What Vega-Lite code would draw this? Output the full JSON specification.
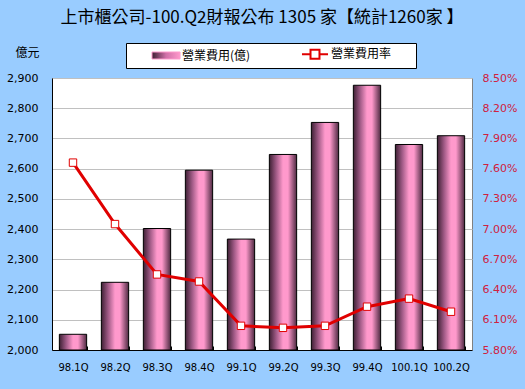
{
  "$schema": "https://vega.github.io/schema/vega-lite/v6.json",
  "width": 420,
  "height": 272,
  "autosize": "none",
  "padding": {"left": 52, "top": 78, "right": 53, "bottom": 39},
  "background": "#99ccff",
  "title": {
    "text": "上市櫃公司-100.Q2財報公布 1305 家【統計1260家 】",
    "font": "Noto Sans CJK TC",
    "fontSize": 17,
    "fontWeight": "normal",
    "color": "#000000",
    "anchor": "middle",
    "offset": 16
  },
  "config": {
    "view": {"fill": "white", "stroke": "#808080", "strokeWidth": 1},
    "axis": {"labelFont": "DejaVu Sans", "labelColor": "#000000", "domainColor": "#000000", "gridColor": "#c0c0c0", "labelOverlap": false}
  },
  "data": {
    "values": [
      {"q": "98.1Q", "expense": 2052, "rate": 0.0766},
      {"q": "98.2Q", "expense": 2224, "rate": 0.0705},
      {"q": "98.3Q", "expense": 2402, "rate": 0.0655},
      {"q": "98.4Q", "expense": 2595, "rate": 0.0648},
      {"q": "99.1Q", "expense": 2367, "rate": 0.0604},
      {"q": "99.2Q", "expense": 2647, "rate": 0.0602},
      {"q": "99.3Q", "expense": 2753, "rate": 0.0604},
      {"q": "99.4Q", "expense": 2876, "rate": 0.0623},
      {"q": "100.1Q", "expense": 2680, "rate": 0.0631},
      {"q": "100.2Q", "expense": 2709, "rate": 0.0618}
    ]
  },
  "encoding": {
    "x": {
      "field": "q",
      "type": "nominal",
      "sort": null,
      "scale": {"paddingInner": 0.35, "paddingOuter": 0.175},
      "axis": {
        "title": null,
        "labelAngle": 0,
        "labelFontSize": 10,
        "labelPadding": 16,
        "tickBand": "extent",
        "tickSize": -4,
        "tickColor": "#000000",
        "domainColor": "#000000",
        "grid": false
      }
    }
  },
  "layer": [
    {
      "mark": {
        "type": "bar",
        "stroke": "#000000",
        "strokeWidth": 1,
        "fill": {
          "gradient": "linear",
          "x1": 0, "y1": 0, "x2": 1, "y2": 0,
          "stops": [
            {"offset": 0, "color": "#3e2034"},
            {"offset": 0.25, "color": "#a05a86"},
            {"offset": 0.5, "color": "#ff99cc"},
            {"offset": 0.68, "color": "#ff99cc"},
            {"offset": 1, "color": "#4e2a42"}
          ]
        }
      },
      "encoding": {
        "y": {
          "field": "expense",
          "type": "quantitative",
          "scale": {"domain": [2000, 2900], "zero": false, "nice": false},
          "axis": {
            "values": [2000, 2100, 2200, 2300, 2400, 2500, 2600, 2700, 2800, 2900],
            "format": ",.0f",
            "labelFontSize": 11,
            "ticks": false,
            "labelPadding": 14,
            "grid": true,
            "domainColor": "#000000",
            "title": "億元",
            "titleAngle": 0,
            "titleFont": "Noto Sans CJK TC",
            "titleFontSize": 12,
            "titleFontWeight": "normal",
            "titleX": -25,
            "titleY": -26,
            "titleAlign": "center",
            "titleBaseline": "middle"
          }
        },
        "y2": {"datum": 2000}
      }
    },
    {
      "layer": [
        {
          "mark": {"type": "line", "strokeWidth": 3},
          "encoding": {
            "y": {
              "field": "rate",
              "type": "quantitative",
              "scale": {"domain": [0.058, 0.085], "zero": false, "nice": false},
              "axis": {
                "orient": "right",
                "values": [0.058, 0.061, 0.064, 0.067, 0.07, 0.073, 0.076, 0.079, 0.082, 0.085],
                "format": ".2%",
                "labelFontSize": 11,
                "labelColor": "#d02040",
                "ticks": false,
                "domain": false,
                "labelPadding": 10,
                "labelOverlap": false,
                "grid": false,
                "title": null
              }
            },
            "color": {
              "datum": "營業費用率",
              "scale": {"domain": ["營業費用(億)", "營業費用率"], "range": ["#ff99cc", "#e00000"]},
              "legend": {
                "title": "一",
                "titleColor": "white",
                "titleOrient": "left",
                "titlePadding": 16,
                "titleFont": "Noto Sans CJK TC",
                "titleFontSize": 12,
                "orient": "none",
                "legendX": 74,
                "legendY": -35,
                "direction": "horizontal",
                "columns": 2,
                "columnPadding": 46,
                "padding": 5,
                "fillColor": "white",
                "strokeColor": "black",
                "labelFont": "Noto Sans CJK TC",
                "labelFontSize": 12,
                "labelColor": "#000000",
                "labelOffset": 10,
                "labelLimit": 200,
                "symbolSize": 784,
                "encode": {
                  "symbols": {
                    "update": {
                      "shape": {"signal": "datum.value == '營業費用率' ? 'M-0.93,0H-0.32M0.32,0H0.93M-0.32,-0.32H0.32V0.32H-0.32ZM6.56,0' : 'M-1,-0.25H1V0.25H-1Z'"},
                      "fill": {"signal": "datum.value == '營業費用率' ? 'white' : {gradient: 'linear', x1: 0, y1: 0, x2: 1, y2: 0, stops: [{offset: 0, color: '#3e2034'}, {offset: 0.5, color: '#d070a8'}, {offset: 1, color: '#ff99cc'}]}"},
                      "stroke": {"signal": "datum.value == '營業費用率' ? '#e00000' : '#000000'"},
                      "strokeWidth": {"signal": "datum.value == '營業費用率' ? 2 : 1"},
                      "size": {"value": 784},
                      "opacity": {"value": 1},
                      "fillOpacity": {"value": 1},
                      "strokeOpacity": {"value": 1}
                    }
                  }
                }
              }
            }
          }
        },
        {
          "mark": {"type": "point", "shape": "square", "filled": true, "fill": "white", "stroke": "#e00000", "strokeWidth": 1, "size": 55, "opacity": 1},
          "encoding": {
            "y": {
              "field": "rate",
              "type": "quantitative",
              "axis": {
                "orient": "right",
                "values": [0.058, 0.061, 0.064, 0.067, 0.07, 0.073, 0.076, 0.079, 0.082, 0.085],
                "format": ".2%",
                "labelFontSize": 11,
                "labelColor": "#d02040",
                "ticks": false,
                "domain": false,
                "labelPadding": 10,
                "labelOverlap": false,
                "grid": false,
                "title": null
              }
            }
          }
        }
      ]
    }
  ],
  "resolve": {"scale": {"y": "independent"}}
}
